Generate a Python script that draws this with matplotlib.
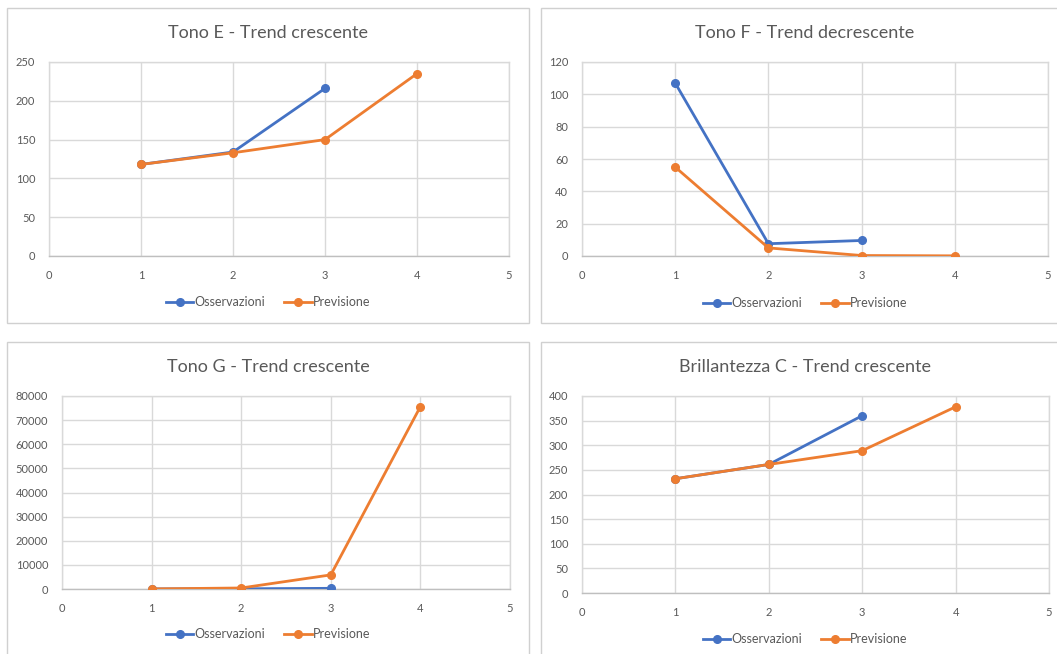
import matplotlib
matplotlib.use("Agg")
import matplotlib.pyplot as plt
from matplotlib.patches import Rectangle

W, H = 1057, 654

TITLES = [
    "Tono E - Trend crescente",
    "Tono F - Trend decrescente",
    "Tono G - Trend crescente",
    "Brillantezza C - Trend crescente",
]
X_OBS = [1, 2, 3]
X_PREV = [1, 2, 3, 4]

OBS_E = [118, 134, 216]
PREV_E = [118, 133, 150, 235]
OBS_F = [107, 7.6, 9.6]
PREV_F = [55, 5, 0.3, 0.1]
OBS_G = [40, 90, 280]
PREV_G = [40, 420, 5850, 75600]
OBS_C = [232, 261, 360]
PREV_C = [232, 261, 289, 378]

Y_MAX = [250, 120, 80000, 400]
Y_STEP = [50, 20, 10000, 50]

BLUE = "#4472C4"
ORANGE = "#ED7D31"
GRID = "#D9D9D9"
TEXT = "#595959"
FONT = "Lato"

# chart box (left, top, right, bottom) and plot area, in pixels from top-left
BOXES = [(7, 8, 529, 323), (541, 8, 1070, 323), (7, 342, 529, 670), (541, 342, 1070, 670)]
PLOTS = [(49, 62, 509, 256), (582, 62, 1048, 256), (62, 396, 510, 589), (582, 396, 1049, 593)]
TITLE_Y = [33, 33, 367, 367]
LEGEND_Y = [302, 303, 634, 639]
TITLE_X = [268, 805, 268, 805]


def fx(px):
    return px / W


def fy(py):
    return 1 - py / H


def main() -> None:
    fig = plt.figure(figsize=(W / 100, H / 100), dpi=100)
    fig.patch.set_facecolor("white")

    series = [(OBS_E, PREV_E), (OBS_F, PREV_F), (OBS_G, PREV_G), (OBS_C, PREV_C)]

    for i, (obs, prev) in enumerate(series):
        l, t, r, b = BOXES[i]
        fig.patches.append(Rectangle((fx(l), fy(b)), fx(r - l), (b - t) / H,
                                     transform=fig.transFigure, facecolor="white",
                                     edgecolor="#D0D0D0", lw=1.0, zorder=-5))

        pl, pt, pr, pb = PLOTS[i]
        ax = fig.add_axes([fx(pl), fy(pb), fx(pr - pl), (pb - pt) / H])
        ax.patch.set_alpha(0)
        ax.plot(X_OBS, obs, color=BLUE, lw=2, marker="o", ms=5.5, label="Osservazioni",
                zorder=3)
        ax.plot(X_PREV, prev, color=ORANGE, lw=2, marker="o", ms=5.5, label="Previsione",
                zorder=4)

        ax.set_xlim(0, 5)
        ax.set_ylim(0, Y_MAX[i])
        ax.set_xticks(range(0, 6))
        ax.set_yticks(range(0, Y_MAX[i] + 1, Y_STEP[i]))
        ax.grid(color=GRID, lw=1)
        ax.set_axisbelow(True)
        for s in ax.spines.values():
            s.set_color(GRID)
            s.set_linewidth(1)
        ax.spines["bottom"].set_color("#BFBFBF")
        ax.tick_params(length=0, labelsize=8, labelcolor=TEXT, pad=10)
        for lab in ax.get_xticklabels() + ax.get_yticklabels():
            lab.set_fontfamily(FONT)

        fig.text(fx(TITLE_X[i]), fy(TITLE_Y[i]), TITLES[i], ha="center", va="center",
                 fontsize=13, color=TEXT, fontfamily=FONT)

        fig.legend(handles=ax.get_lines(), loc="center", ncol=2, frameon=False,
                   bbox_to_anchor=(fx(TITLE_X[i]), fy(LEGEND_Y[i])),
                   prop={"family": FONT, "size": 9}, labelcolor=TEXT,
                   handlelength=2.2, handletextpad=0.1, columnspacing=1.5)

    fig.savefig("out.png", dpi=100)


if __name__ == "__main__":
    main()
